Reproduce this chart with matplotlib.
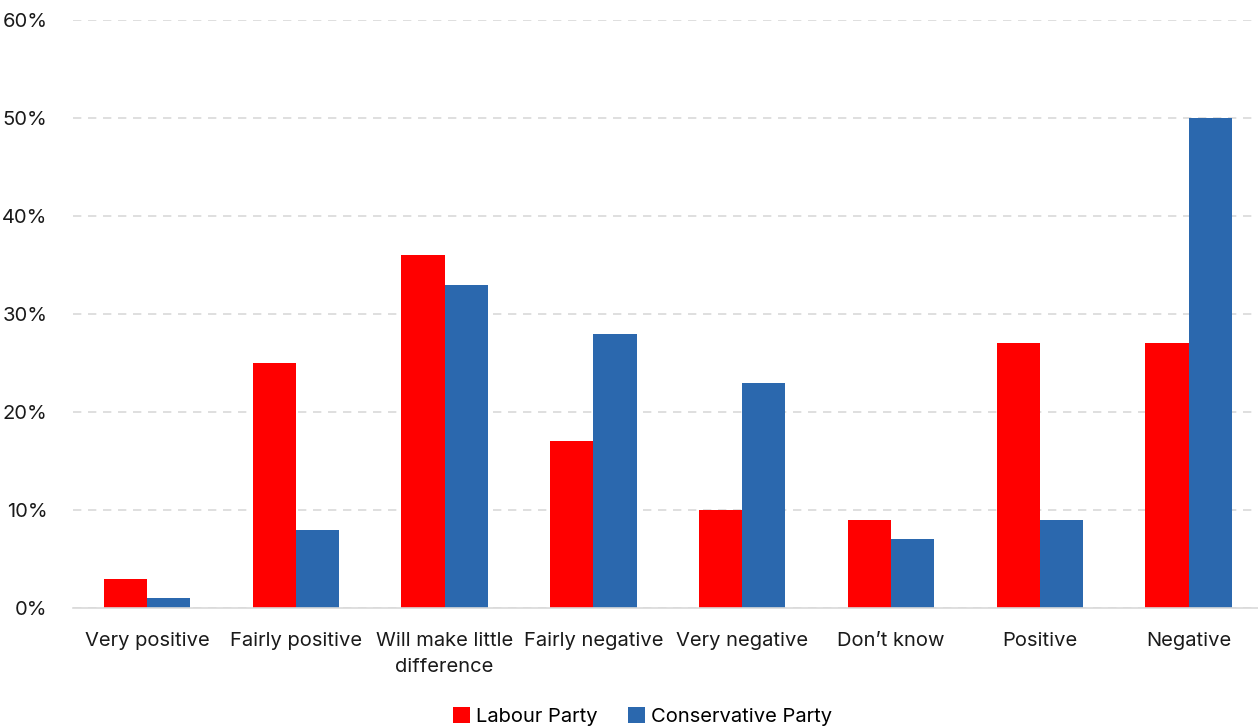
import numpy as np
import matplotlib.pyplot as plt

plt.rcParams['font.family'] = ['Inter', 'DejaVu Sans']

categories = ["Very positive", "Fairly positive", "Will make little\ndifference",
              "Fairly negative", "Very negative", "Don\u2019t know", "Positive", "Negative"]
labour = [3, 25, 36, 17, 10, 9, 27, 27]
conservative = [1, 8, 33, 28, 23, 7, 9, 50]
yticks = [0, 10, 20, 30, 40, 50, 60]

red = '#FF0000'
blue = '#2B68AE'

fig = plt.figure(figsize=(12.58, 7.27), dpi=100)
ax = fig.add_axes([0.0577, 0.1637, 0.9463, 0.8088])

x = np.arange(len(categories))
w = 0.29
ax.bar(x - w / 2, labour, w, color=red, label="Labour Party", zorder=3)
ax.bar(x + w / 2, conservative, w, color=blue, label="Conservative Party", zorder=3)

ax.set_xlim(-0.5, len(categories) - 0.5)
ax.set_ylim(0, 60)
ax.set_yticks(yticks)
ax.set_yticklabels([f"{t}%" for t in yticks])
ax.set_xticks(x)
ax.set_xticklabels(categories, linespacing=1.6)
ax.yaxis.grid(True, color='#D9D9D9', linestyle=(0, (5, 4)), linewidth=1.2, zorder=0)
for s in ['top', 'right', 'left']:
    ax.spines[s].set_visible(False)
ax.spines['bottom'].set_color('#D9D9D9')
ax.spines['bottom'].set_linewidth(1.2)
ax.spines['bottom'].set_zorder(4)
ax.tick_params(axis='both', length=0, labelsize=14.5, colors='#1a1a1a')
ax.tick_params(axis='x', pad=17)
ax.tick_params(axis='y', pad=18)

fig.legend(loc='lower center', bbox_to_anchor=(0.511, -0.023), ncol=2,
           frameon=False, fontsize=14.5, handlelength=0.85, handleheight=0.85,
           handletextpad=0.3, columnspacing=1.5)

fig.savefig("out.png", dpi=100)
